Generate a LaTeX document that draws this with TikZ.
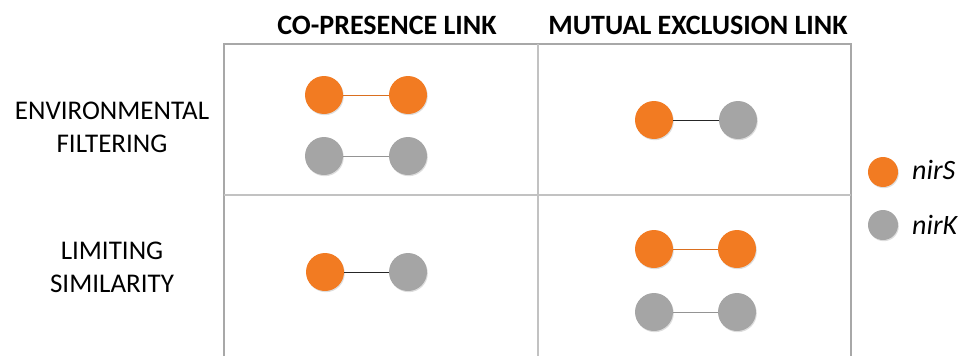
\documentclass[tikz,border=0pt]{standalone}
\usepackage{fontspec}
\setmainfont{Carlito}
\usetikzlibrary{shadows}
\definecolor{nirSorange}{HTML}{F27B22}
\definecolor{nirKgray}{HTML}{A5A5A5}
\definecolor{gridgray}{HTML}{A8A8A8}
\tikzset{
  gene/.style={circle, minimum size=38pt, inner sep=0pt,
    drop shadow={shadow xshift=0.8pt, shadow yshift=-1.2pt, opacity=0.22, fill=black!60}},
  sgene/.style={gene, fill=nirSorange},
  kgene/.style={gene, fill=nirKgray},
  legS/.style={sgene, minimum size=30pt},
  legK/.style={kgene, minimum size=30pt},
  olink/.style={draw=nirSorange!90!black, line width=0.9pt},
  glink/.style={draw=nirKgray!90!black, line width=0.9pt},
  mlink/.style={draw=black!85, line width=1pt},
  header/.style={font=\bfseries\fontsize{28}{30}\selectfont, anchor=base},
  rowlabel/.style={font=\fontsize{27}{33}\selectfont, align=center, anchor=base},
  legtext/.style={font=\itshape\fontsize{28}{30}\selectfont, anchor=base west, inner sep=0pt},
  gridline/.style={draw=gridgray, line width=1.8pt},
  thingrid/.style={draw=gridgray!70, line width=1.2pt}
}
\begin{document}
\begin{tikzpicture}[x=1pt, y=-1pt]
\useasboundingbox (0,0) rectangle (968,356);

% table frame
\draw[gridline] (224,356) -- (224,44) -- (851,44) -- (851,356);
\draw[thingrid] (538,44) -- (538,356);
\draw[thingrid] (224,195) -- (851,195);

% column headers
\node[header] (h1) at (387,34) {CO-PRESENCE LINK};
\node[header] (h2) at (698,34) {MUTUAL EXCLUSION LINK};

% row labels (anchored at the baseline of their last line)
\node[rowlabel] (r1) at (112,152) {ENVIRONMENTAL\\FILTERING};
\node[rowlabel] (r2) at (112,292) {LIMITING\\SIMILARITY};

% environmental filtering / co-presence
\node[sgene] (a1) at (324,95) {};
\node[sgene] (a2) at (408,95) {};
\node[kgene] (a3) at (324,156) {};
\node[kgene] (a4) at (408,156) {};
\draw[olink] (a1) -- (a2);
\draw[glink] (a3) -- (a4);

% environmental filtering / mutual exclusion
\node[sgene] (b1) at (654,120) {};
\node[kgene] (b2) at (738,120) {};
\draw[mlink] (b1) -- (b2);

% limiting similarity / co-presence
\node[sgene] (c1) at (325,272) {};
\node[kgene] (c2) at (408,272) {};
\draw[mlink] (c1) -- (c2);

% limiting similarity / mutual exclusion
\node[sgene] (d1) at (654,249) {};
\node[sgene] (d2) at (737,249) {};
\node[kgene] (d3) at (654,312) {};
\node[kgene] (d4) at (737,312) {};
\draw[olink] (d1) -- (d2);
\draw[glink] (d3) -- (d4);

% legend
\node[legS] (ls) at (883,172) {};
\node[legK] (lk) at (883,225) {};
\node[legtext] (ts) at (912,179) {nirS};
\node[legtext] (tk) at (912,234) {nirK};
\end{tikzpicture}
\end{document}
